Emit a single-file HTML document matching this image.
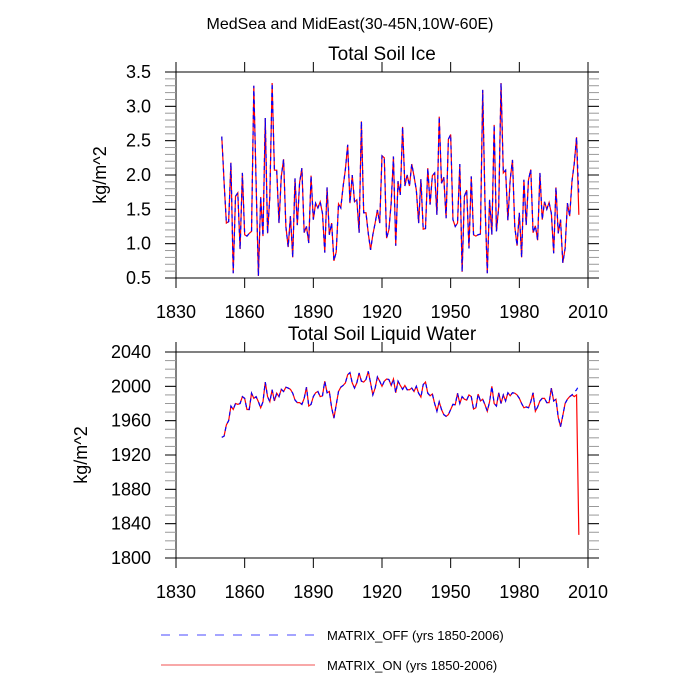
<!DOCTYPE html>
<html><head><meta charset="utf-8">
<style>
html,body{margin:0;padding:0;background:#fff;}
svg{display:block;font-family:"Liberation Sans",Arial,sans-serif;}
</style></head>
<body>
<svg id="chart" width="700" height="700" xmlns="http://www.w3.org/2000/svg">
<text x="350" y="29" font-size="16" text-anchor="middle">MedSea and MidEast(30-45N,10W-60E)</text>
<g id="p1"></g>
<g id="p2"></g>
<g>
<line x1="161" y1="635" x2="315" y2="635" stroke="#4a4aff" stroke-width="1" stroke-dasharray="9,9"/>
<text x="327" y="640" font-size="13">MATRIX_OFF (yrs 1850-2006)</text>
<line x1="161" y1="665" x2="315" y2="665" stroke="#f05050" stroke-width="1"/>
<text x="327" y="670" font-size="13">MATRIX_ON (yrs 1850-2006)</text>
</g>
</svg>
<script>
const startYear = 1850;
const iceOn = [2.56,1.9,1.30,1.32,2.18,0.57,1.69,1.74,0.92,2.03,1.13,1.11,1.15,1.18,3.30,1.88,0.53,1.68,1.11,2.83,1.15,1.69,3.34,2.07,2.07,1.30,1.98,2.23,1.25,0.95,1.40,0.80,1.95,1.27,1.89,2.10,1.16,1.25,1.01,1.99,1.35,1.59,1.52,1.61,1.44,0.87,1.82,1.13,1.30,0.75,0.88,1.58,1.52,1.83,2.08,2.44,1.59,2.00,1.61,1.64,1.16,2.78,1.45,1.45,1.15,0.91,1.13,1.30,1.49,1.30,2.28,2.25,1.08,1.20,1.59,2.27,0.97,1.91,1.71,2.70,1.84,2.00,1.84,2.16,1.98,1.78,1.30,1.94,1.21,1.22,2.10,1.57,1.99,2.03,1.42,2.85,1.88,1.97,1.37,2.52,2.59,1.35,1.25,1.30,2.16,0.59,1.69,1.78,0.93,1.98,1.13,1.11,1.13,1.14,3.24,1.59,0.57,1.64,1.13,2.73,1.18,1.54,3.34,2.03,2.07,1.34,1.93,2.22,1.25,0.97,1.45,0.80,1.93,1.27,1.93,2.08,1.16,1.26,1.05,2.03,1.35,1.61,1.50,1.60,1.44,0.86,1.82,1.15,1.35,0.72,0.93,1.59,1.40,1.91,2.17,2.55,1.42];
const iceOff = [2.56,1.9,1.30,1.32,2.18,0.57,1.69,1.74,0.92,2.03,1.13,1.11,1.15,1.18,3.30,1.88,0.53,1.68,1.11,2.83,1.15,1.69,3.34,2.07,2.07,1.30,1.98,2.23,1.25,0.95,1.40,0.80,1.95,1.27,1.89,2.10,1.16,1.25,1.01,1.99,1.35,1.59,1.52,1.61,1.44,0.87,1.82,1.13,1.30,0.75,0.88,1.58,1.52,1.83,2.08,2.44,1.59,2.00,1.61,1.64,1.16,2.78,1.45,1.45,1.15,0.91,1.13,1.30,1.49,1.30,2.28,2.25,1.08,1.20,1.59,2.27,0.97,1.91,1.71,2.70,1.84,2.00,1.84,2.16,1.98,1.78,1.30,1.94,1.21,1.22,2.10,1.57,1.99,2.03,1.42,2.85,1.88,1.97,1.37,2.52,2.59,1.35,1.25,1.30,2.16,0.59,1.69,1.78,0.93,1.98,1.13,1.11,1.13,1.14,3.24,1.59,0.57,1.64,1.13,2.73,1.18,1.54,3.34,2.03,2.07,1.34,1.93,2.22,1.25,0.97,1.45,0.80,1.93,1.27,1.93,2.08,1.16,1.26,1.05,2.03,1.35,1.61,1.50,1.60,1.44,0.86,1.82,1.15,1.35,0.72,0.93,1.59,1.40,1.91,2.17,2.55,1.70];
const liqOn = [1940.5,1942,1955,1960,1977,1973,1980,1979,1980,1988,1986,1973,1973,1992,1986,1988,1982,1975,1982,2005,1988,1982,1996,1983,1992,1988,1996.5,1994,1999,1998,1996.5,1992,1984,1981,1981,1979,1986,1999,1977,1979,1988,1992.5,1994,1988,1989,2006,1992.5,1994,1975,1963,1978.5,1994,1999,2001,2004,2013.5,2016,2004,1998,2004,2015.5,2006,2005,2008,2017.5,2004,1990,1998,2011,2006,2000,2006,2008.5,2008,2001,2008.5,1992.5,2006,2001,1996.5,2001,1996,1996,1998,1994,2000,1992,1987.5,2002,2005,1992,1989,1991,1980,1971,1982,1973,1967,1965,1967,1973,1979,1978.5,1992,1980,1988,1985,1984,1990,1988,1973.5,1975,1991,1983,1985,1978.5,1971,1982,2000,1980,1977,1992.5,1980,1990,1983,1992.5,1989,1992.5,1992,1990,1986,1980,1975,1976,1975,1982,1992.5,1971,1976,1983,1986,1986,1981,1981,1998,1983,1985,1964,1953,1966,1980,1985,1988,1990,1988,1990,1827];
const liqOff = [1940.5,1942,1955,1960,1977,1973,1980,1979,1980,1988,1986,1973,1973,1992,1986,1988,1982,1975,1982,2005,1988,1982,1996,1983,1992,1988,1996.5,1994,1999,1998,1996.5,1992,1984,1981,1981,1979,1986,1999,1977,1979,1988,1992.5,1994,1988,1989,2006,1992.5,1994,1975,1963,1978.5,1994,1999,2001,2004,2013.5,2016,2004,1998,2004,2015.5,2006,2005,2008,2017.5,2004,1990,1998,2011,2006,2000,2006,2008.5,2008,2001,2008.5,1992.5,2006,2001,1996.5,2001,1996,1996,1998,1994,2000,1992,1987.5,2002,2005,1992,1989,1991,1980,1971,1982,1973,1967,1965,1967,1973,1979,1978.5,1992,1980,1988,1985,1984,1990,1988,1973.5,1975,1991,1983,1985,1978.5,1971,1982,2000,1980,1977,1992.5,1980,1990,1983,1992.5,1989,1992.5,1992,1990,1986,1980,1975,1976,1975,1982,1992.5,1971,1976,1983,1986,1986,1981,1981,1998,1983,1985,1964,1953,1966,1980,1985,1988,1990,1993,1996,2001];
const xTicks = [1830,1860,1890,1920,1950,1980,2010];
const iceTicks = ["0.5","1.0","1.5","2.0","2.5","3.0","3.5"];
const liqTicks = ["1800","1840","1880","1920","1960","2000","2040"];

const NS="http://www.w3.org/2000/svg";
function mk(parent,tag,attrs){const e=document.createElementNS(NS,tag);for(const k in attrs)e.setAttribute(k,attrs[k]);parent.appendChild(e);return e;}

function panel(g,top,bot,ymin,ymax,yTicks,minorStep,title,on,off,titleX){
  const L=176,R=588;
  const xs=y=>L+(y-1830)/(2010-1830)*(R-L);
  const ys=v=>bot-(v-ymin)/(ymax-ymin)*(bot-top);
  const box=mk(g,'rect',{x:L,y:top,width:R-L,height:bot-top,fill:'none',stroke:'#000','stroke-width':1});
  
  
  const t=mk(g,'text',{x:382,y:top-12,'font-size':19,'text-anchor':'middle'});t.textContent=title;
  
  
  for(const yr of xTicks){
    const x=xs(yr);
    const a=mk(g,'line',{x1:x,y1:top-10,x2:x,y2:top,stroke:'#000'});
    
    
    const b=mk(g,'line',{x1:x,y1:bot,x2:x,y2:bot+10,stroke:'#000'});
    
    
    const lb=mk(g,'text',{x:x,y:bot+40,'font-size':18,'text-anchor':'middle'});lb.textContent=yr;
    
    
  }
  for(let v=ymin;v<=ymax+1e-9;v+=minorStep){
    const y=ys(v);
    for(const [x1,x2] of [[L-11,L],[R,R+11]]){
      const m=mk(g,'line',{x1:x1,y1:y,x2:x2,y2:y,stroke:'#999','stroke-width':1});
      
      
    }
  }
  yTicks.forEach(s=>{
    const v=parseFloat(s),y=ys(v);
    for(const [x1,x2] of [[L-11,L],[R,R+11]]){
      const m=mk(g,'line',{x1:x1,y1:y,x2:x2,y2:y,stroke:'#000','stroke-width':1});
      
      
    }
    const lb=mk(g,'text',{x:L-25,y:y+6,'font-size':18,'text-anchor':'end'});lb.textContent=s;
    
    
  });
  const yt=mk(g,'text',{x:titleX,y:(top+bot)/2,'font-size':18,'text-anchor':'middle',transform:`rotate(-90 ${titleX} ${(top+bot)/2})`});yt.textContent='kg/m^2';
  
  
  const pts=a=>a.map((v,i)=>xs(startYear+i).toFixed(2)+','+ys(v).toFixed(2)).join(' ');
  const l1=mk(g,'polyline',{points:pts(on),fill:'none',stroke:'#ff0000','stroke-width':1.2});
  
  
  const l2=mk(g,'polyline',{points:pts(off),fill:'none',stroke:'#0000ff','stroke-width':1.2,'stroke-dasharray':'4,4'});
  
  
}
panel(document.getElementById('p1'),72,278,0.5,3.5,iceTicks,0.1,'Total Soil Ice',iceOn,iceOff,106);
panel(document.getElementById('p2'),352,558,1800,2040,liqTicks,10,'Total Soil Liquid Water',liqOn,liqOff,87);
</script>
</body></html>
